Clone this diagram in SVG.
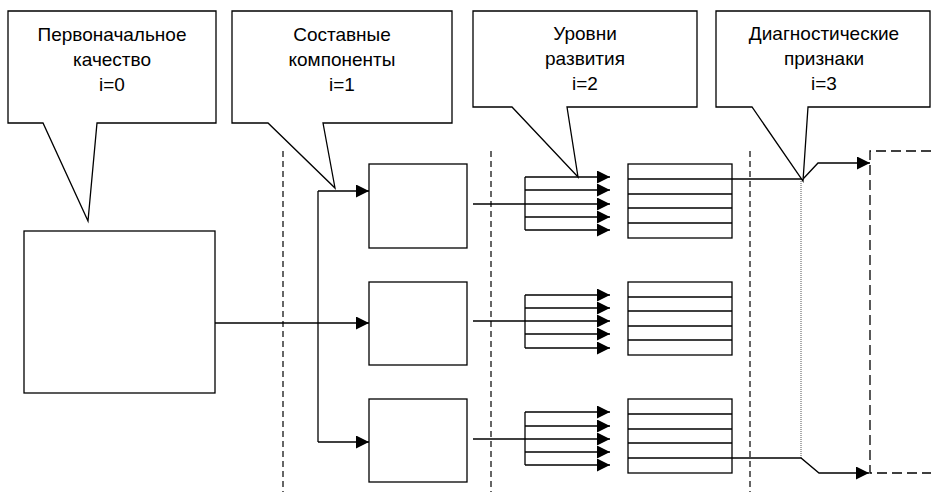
<svg xmlns="http://www.w3.org/2000/svg" width="931" height="492" viewBox="0 0 931 492">
  <style>
    .shape { fill: #ffffff; stroke: #000000; stroke-width: 1.3; }
    .ln { fill: none; stroke: #000000; stroke-width: 1.3; }
    .sep { fill: none; stroke: #000000; stroke-width: 1.2; stroke-dasharray: 6 4; }
    .dash { fill: none; stroke: #000000; stroke-width: 1.3; stroke-dasharray: 10 5; }
    .dot { fill: none; stroke: #555555; stroke-width: 1; stroke-dasharray: 1 1; }
    .lbl { font-family: "Liberation Sans", Arial, sans-serif; font-size: 19px; fill: #000000; text-anchor: middle; }
  </style>
  <defs>
    <marker id="arr" markerUnits="userSpaceOnUse" markerWidth="13" markerHeight="13" refX="13" refY="6.5" orient="auto">
      <path d="M0,0 L13,6.5 L0,13 Z" fill="#000000"/>
    </marker>
  </defs>
  <rect width="931" height="492" fill="#ffffff"/>

  <g id="separators">
    <line class="sep" x1="283" y1="151" x2="283" y2="492"/>
    <line class="sep" x1="491" y1="151" x2="491" y2="492"/>
    <line class="sep" x1="750" y1="151" x2="750" y2="492"/>
    <line class="dot" x1="801" y1="181" x2="801" y2="458"/>
  </g>

  <g id="node-result">
    <path class="dash" d="M931,151 H870 V473 H931"/>
  </g>

  <g id="node-quality">
    <rect class="shape" x="24" y="231" width="191" height="162"/>
  </g>
  <g id="node-comp1"><rect class="shape" x="369" y="164" width="98" height="84"/></g>
  <g id="node-comp2"><rect class="shape" x="369" y="282" width="98" height="83"/></g>
  <g id="node-comp3"><rect class="shape" x="369" y="399" width="98" height="83"/></g>

  <g id="node-table1">
    <rect class="shape" x="628" y="164" width="104" height="74"/>
    <path class="ln" d="M628,179 H732 M628,194 H732 M628,208 H732 M628,223 H732"/>
  </g>
  <g id="node-table2">
    <rect class="shape" x="628" y="282" width="104" height="73"/>
    <path class="ln" d="M628,297 H732 M628,311 H732 M628,326 H732 M628,340 H732"/>
  </g>
  <g id="node-table3">
    <rect class="shape" x="628" y="399" width="104" height="74"/>
    <path class="ln" d="M628,414 H732 M628,429 H732 M628,443 H732 M628,458 H732"/>
  </g>

  <g id="connectors">
    <line class="ln" x1="215" y1="323" x2="369" y2="323" marker-end="url(#arr)"/>
    <line class="ln" x1="318" y1="191" x2="318" y2="442"/>
    <line class="ln" x1="318" y1="191" x2="369" y2="191" marker-end="url(#arr)"/>
    <line class="ln" x1="318" y1="442" x2="369" y2="442" marker-end="url(#arr)"/>

    <line class="ln" x1="473" y1="204" x2="525" y2="204"/>
    <line class="ln" x1="525" y1="177" x2="525" y2="230"/>
    <line class="ln" x1="525" y1="177" x2="610" y2="177" marker-end="url(#arr)"/>
    <line class="ln" x1="525" y1="190" x2="610" y2="190" marker-end="url(#arr)"/>
    <line class="ln" x1="525" y1="204" x2="610" y2="204" marker-end="url(#arr)"/>
    <line class="ln" x1="525" y1="217" x2="610" y2="217" marker-end="url(#arr)"/>
    <line class="ln" x1="525" y1="230" x2="610" y2="230" marker-end="url(#arr)"/>

    <line class="ln" x1="473" y1="321" x2="525" y2="321"/>
    <line class="ln" x1="525" y1="295" x2="525" y2="348"/>
    <line class="ln" x1="525" y1="295" x2="610" y2="295" marker-end="url(#arr)"/>
    <line class="ln" x1="525" y1="308" x2="610" y2="308" marker-end="url(#arr)"/>
    <line class="ln" x1="525" y1="321" x2="610" y2="321" marker-end="url(#arr)"/>
    <line class="ln" x1="525" y1="334" x2="610" y2="334" marker-end="url(#arr)"/>
    <line class="ln" x1="525" y1="348" x2="610" y2="348" marker-end="url(#arr)"/>

    <line class="ln" x1="473" y1="439" x2="525" y2="439"/>
    <line class="ln" x1="525" y1="412" x2="525" y2="465"/>
    <line class="ln" x1="525" y1="412" x2="610" y2="412" marker-end="url(#arr)"/>
    <line class="ln" x1="525" y1="426" x2="610" y2="426" marker-end="url(#arr)"/>
    <line class="ln" x1="525" y1="439" x2="610" y2="439" marker-end="url(#arr)"/>
    <line class="ln" x1="525" y1="452" x2="610" y2="452" marker-end="url(#arr)"/>
    <line class="ln" x1="525" y1="465" x2="610" y2="465" marker-end="url(#arr)"/>

    <path class="ln" d="M732,179 H803 L818,163 H870" marker-end="url(#arr)"/>
    <path class="ln" d="M732,458 H801 L819,473 H869" marker-end="url(#arr)"/>
  </g>

  <g id="callout-0">
    <path class="shape" d="M8,11 H216 V123 H97 L88,221 L43,123 H8 Z"/>
    <text class="lbl" x="112" y="41">Первоначальное</text>
    <text class="lbl" x="112" y="66">качество</text>
    <text class="lbl" x="112" y="91">i=0</text>
  </g>
  <g id="callout-1">
    <path class="shape" d="M232,11 H452 V123 H323 L335,188 L268,123 H232 Z"/>
    <text class="lbl" x="342" y="41">Составные</text>
    <text class="lbl" x="342" y="66">компоненты</text>
    <text class="lbl" x="342" y="91">i=1</text>
  </g>
  <g id="callout-2">
    <path class="shape" d="M473,11 H697 V107 H567 L578,177 L512,107 H473 Z"/>
    <text class="lbl" x="585" y="40">Уровни</text>
    <text class="lbl" x="585" y="65">развития</text>
    <text class="lbl" x="585" y="90">i=2</text>
  </g>
  <g id="callout-3">
    <path class="shape" d="M716,11 H930 V107 H808 L803,181 L752,107 H716 Z"/>
    <text class="lbl" x="824" y="40">Диагностические</text>
    <text class="lbl" x="824" y="65">признаки</text>
    <text class="lbl" x="824" y="90">i=3</text>
  </g>
</svg>
